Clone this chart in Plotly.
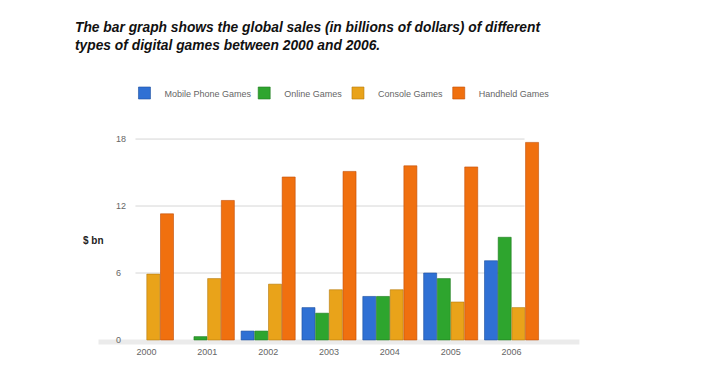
import plotly.graph_objects as go

years = ["2000", "2001", "2002", "2003", "2004", "2005", "2006"]
mobile = [None, None, 0.8, 2.9, 3.9, 6.0, 7.1]
online = [None, 0.3, 0.8, 2.4, 3.9, 5.5, 9.2]
console = [5.9, 5.5, 5.0, 4.5, 4.5, 3.4, 2.9]
handheld = [11.3, 12.5, 14.6, 15.1, 15.6, 15.5, 17.7]
series_names = ["Mobile Phone Games", "Online Games", "Console Games", "Handheld Games"]
y_ticks = [0, 6, 12, 18]
grid_vals = [6, 12, 18]

colors = ["#2f70d4", "#2ea52e", "#e9a31a", "#f0700f"]
edges = ["#1d4f9e", "#1f7a1f", "#b57a0c", "#c24d05"]
legend_ids = ["legend", "legend2", "legend3", "legend4"]
legend_text_x = [165, 285, 379, 480]

W, H = 712, 373
OFF = 8  # page body margin offset of the rendered figure
L, R, T, B = 112.5 - OFF, 545.5 - OFF, 129 - OFF, 345 - OFF


def px(xp):
    return (xp - OFF - L) / (R - L)


def py(yp):
    return (B - (yp - OFF)) / (B - T)


fig = go.Figure()
for name, vals, c, e, lid in zip(series_names, [mobile, online, console, handheld], colors, edges, legend_ids):
    fig.add_trace(go.Bar(
        x=years, y=vals, name=name, legend=lid, showlegend=True,
        marker=dict(color=c, line=dict(color=e, width=0.6)),
    ))

shapes = []
for g in grid_vals:
    shapes.append(dict(type="line", xref="paper", yref="y", x0=px(135), x1=px(525), y0=g, y1=g,
                       line=dict(color="#d6d6d6", width=1), layer="below"))
# floor shadow
shapes.append(dict(type="rect", xref="paper", yref="y", x0=px(98), x1=px(580),
                   y0=-0.4, y1=0.05, fillcolor="rgba(190,190,190,0.3)", line=dict(width=0), layer="below"))

legend_common = dict(xref="paper", yref="paper", xanchor="left", yanchor="middle",
                     font=dict(size=9, color="#666666"), bgcolor="rgba(0,0,0,0)", itemwidth=30,
                     visible=True)
legends = {}
for lid, tx in zip(legend_ids, legend_text_x):
    legends[lid] = dict(x=px(tx - 41), y=py(93), **legend_common)

fig.update_layout(
    width=W, height=H,
    margin=dict(l=L, r=W - R, t=T, b=H - B, pad=0, autoexpand=False),
    paper_bgcolor="white", plot_bgcolor="white",
    showlegend=True,
    barmode="group", bargap=0.1, bargroupgap=0.05,
    font=dict(family="Liberation Sans, Arial, sans-serif", size=9, color="#666666"),
    title=dict(
        text="The bar graph shows the global sales (in billions of dollars) of different<br>types of digital games between 2000 and 2006.",
        x=(75 - OFF) / W, xref="container", xanchor="left",
        y=1 - (32 - OFF) / H, yref="container", yanchor="top",
        font=dict(family="Liberation Sans, Arial, sans-serif", size=13.8, color="#111111",
                  weight="bold", style="italic"),
    ),
    xaxis=dict(range=[-0.55, 6.55], showgrid=False, showline=False, zeroline=False,
               ticks="", tickfont=dict(size=9, color="#666666"), fixedrange=True),
    yaxis=dict(range=[-0.45, 18.9], tickvals=y_ticks, ticktext=[str(v) for v in y_ticks],
               showgrid=False, showline=False, zeroline=False, ticks="",
               ticklabelposition="inside", ticklabeloverflow="allow",
               tickfont=dict(size=9, color="#666666")),
    shapes=shapes,
    annotations=[dict(text="<b>$ bn</b>", xref="paper", yref="paper",
                      x=px(80), y=py(240), xanchor="left", yanchor="middle",
                      showarrow=False, font=dict(size=10, color="#222222"))],
    **legends,
)

fig.write_html("out.html")
